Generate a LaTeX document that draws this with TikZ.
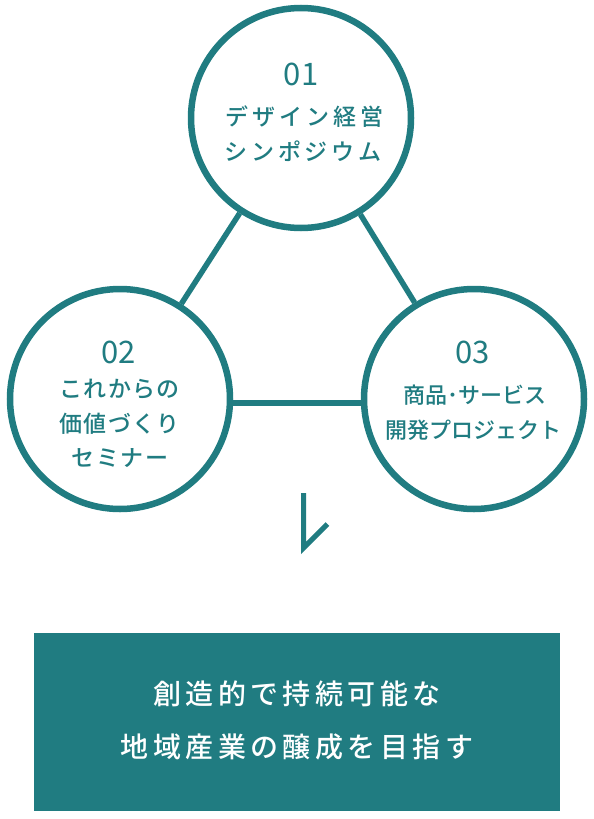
\documentclass[tikz,border=0pt]{standalone}
\usepackage{fontspec}
\usepackage{graphicx}
\setmainfont{Noto Sans CJK JP}
\newfontfamily\jpnum{Noto Sans CJK JP}
\newfontfamily\jpA[LetterSpace=17]{Noto Sans CJK JP Medium}
\newfontfamily\jpB[LetterSpace=6.5]{Noto Sans CJK JP Medium}
\newfontfamily\jpC[LetterSpace=0]{Noto Sans CJK JP Medium}
\newfontfamily\jpD[LetterSpace=16]{Noto Sans CJK JP Medium}
\definecolor{tealc}{RGB}{32,124,129}
\tikzset{
  circ/.style={circle, draw=tealc, fill=white, line width=6.5pt, minimum size=220pt, inner sep=0pt},
  link/.style={draw=tealc, line width=5.5pt},
  arrowline/.style={draw=tealc, line width=5pt, line join=miter},
  goalbox/.style={rectangle, fill=tealc, draw=none, minimum width=526pt, minimum height=178pt, inner sep=0pt},
  num/.style={anchor=base, inner sep=0pt, text=tealc, font=\jpnum\fontsize{31}{31}\selectfont},
  lblA/.style={anchor=base, inner sep=0pt, text=tealc, font=\jpA\fontsize{23}{23}\selectfont},
  lblB/.style={anchor=base, inner sep=0pt, text=tealc, font=\jpB\fontsize{23}{23}\selectfont},
  lblC/.style={anchor=base, inner sep=0pt, text=tealc, font=\jpC\fontsize{22}{22}\selectfont},
  goaltext/.style={anchor=base, inner sep=0pt, text=white, font=\jpD\fontsize{28}{28}\selectfont},
}
\begin{document}
\begin{tikzpicture}[x=1pt,y=-1pt]
\useasboundingbox (0,0) rectangle (594,819);
% circles
\node[circ] (t) at (301,118) {};
\node[circ] (l) at (120,399) {};
\node[circ] (r) at (474,399) {};
% connectors
\draw[link] (t) -- (l);
\draw[link] (t) -- (r);
\draw[link] ([yshift=-4pt]l.east) -- ([yshift=-4pt]r.west);
% top circle text
\node[num] (t0) at (301,85) {01};
\node[lblA] (t1) at (304.5,125.5) {デザイン経営};
\node[lblA] (t2) at (303,160.5) {シンポジウム};
% left circle text
\node[num] (l0) at (118.5,363) {02};
\node[lblB] (l1) at (119.5,397.5) {これからの};
\node[lblB] (l2) at (119.5,432.5) {価値づくり};
\node[lblB] (l3) at (120,466.5) {セミナー};
% right circle text
\node[num] (r0) at (472.5,363) {03};
\node[lblC] (r1) at (475,403) {商品･サービス};
\node[lblC] (r2) at (473.5,438) {開発プロジェクト};
% arrow
\coordinate (a1) at (303.5,493);
\coordinate (a2) at (303.5,548);
\coordinate (a3) at (327.5,524);
\draw[arrowline] (a1) -- (a2) -- (a3);
% goal box
\node[goalbox] (g) at (297,722) {};
\node[goaltext] (g1) at (297,704.5) {創造的で持続可能な};
\node[goaltext] (g2) at (297,757.5) {地域産業の醸成を目指す};
\end{tikzpicture}
\end{document}
